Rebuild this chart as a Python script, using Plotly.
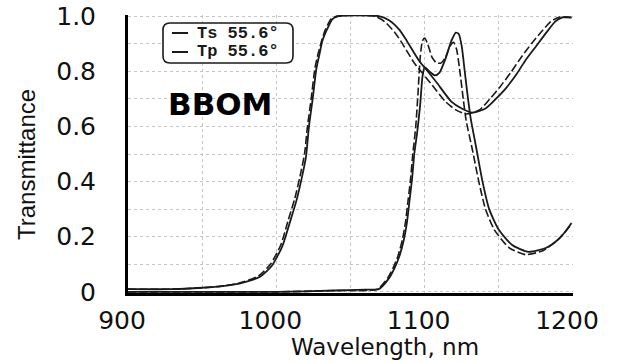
import plotly.graph_objects as go

# ---------------- data ----------------
wl_ts_a = [900, 930, 950, 962, 975, 989, 997, 1004, 1009, 1013.5, 1017, 1020, 1022, 1024.5, 1027, 1029, 1031, 1034, 1038, 1042,
           1069, 1076, 1083, 1088, 1096, 1102, 1108, 1118, 1125, 1132, 1141, 1148, 1155, 1162, 1168, 1175, 1182, 1188, 1193, 1199]
ts_a = [0.01, 0.01, 0.015, 0.02, 0.03, 0.055, 0.095, 0.165, 0.25, 0.33, 0.41, 0.49, 0.6, 0.70, 0.81, 0.86, 0.91, 0.95, 0.99, 1.0,
        1.0, 0.985, 0.95, 0.91, 0.84, 0.80, 0.76, 0.69, 0.665, 0.65, 0.665, 0.70, 0.74, 0.79, 0.84, 0.89, 0.94, 0.98, 0.995, 0.995]

wl_tp_a = [900, 930, 950, 962, 975, 988, 996, 1003, 1008, 1012.5, 1016, 1019, 1021, 1023.5, 1026, 1028, 1030.5, 1033, 1037, 1041,
           1066, 1073, 1080, 1085, 1093, 1099, 1105, 1114, 1121, 1128, 1137, 1144, 1151, 1158, 1165, 1172, 1179, 1185, 1191, 1199]
tp_a = [0.01, 0.01, 0.015, 0.02, 0.032, 0.058, 0.10, 0.17, 0.26, 0.34, 0.42, 0.50, 0.6, 0.70, 0.81, 0.86, 0.91, 0.95, 0.99, 1.0,
        1.0, 0.98, 0.94, 0.90, 0.83, 0.79, 0.75, 0.69, 0.66, 0.645, 0.66, 0.70, 0.745, 0.795, 0.85, 0.90, 0.945, 0.98, 0.997, 0.995]

wl_ts_b = [900, 1000, 1040, 1060, 1069, 1076, 1080, 1083, 1086, 1088, 1090, 1091.5, 1093, 1095, 1097, 1098.5, 1100, 1103, 1107,
           1110, 1114, 1118, 1121, 1123, 1125, 1127, 1129, 1131, 1134.5, 1139, 1143.5, 1150, 1159, 1170, 1182, 1190, 1195, 1199]
ts_b = [0.0, 0.0, 0.005, 0.008, 0.01, 0.05, 0.09, 0.13, 0.19, 0.25, 0.34, 0.41, 0.50, 0.58, 0.68, 0.78, 0.815, 0.80, 0.785,
        0.795, 0.845, 0.91, 0.94, 0.935, 0.89, 0.80, 0.71, 0.63, 0.53, 0.40, 0.30, 0.225, 0.17, 0.145, 0.16, 0.19, 0.22, 0.25]

wl_tp_b = [900, 1000, 1040, 1068, 1075, 1079, 1082, 1085, 1087, 1089, 1090.5, 1092, 1094, 1095.5, 1097, 1098.5, 1100, 1102, 1105,
           1108, 1111, 1114, 1117, 1119.5, 1121.5, 1123.5, 1126, 1128, 1132, 1136.5, 1141, 1147, 1157, 1168, 1180, 1190, 1199]
tp_b = [0.0, 0.0, 0.005, 0.01, 0.05, 0.09, 0.13, 0.19, 0.25, 0.34, 0.41, 0.50, 0.60, 0.72, 0.85, 0.91, 0.92, 0.90, 0.85,
        0.83, 0.83, 0.85, 0.89, 0.905, 0.88, 0.81, 0.70, 0.62, 0.52, 0.40, 0.30, 0.225, 0.16, 0.135, 0.15, 0.19, 0.245]

x_ticks = [900, 1000, 1100, 1200]
x_tick_labels = ["900", "1000", "1100", "1200"]
y_ticks = [0, 0.2, 0.4, 0.6, 0.8, 1.0]
y_tick_labels = ["0", "0.2", "0.4", "0.6", "0.8", "1.0"]
legend_labels = ["Ts 55.6\u00b0", "Tp 55.6\u00b0"]

# ---------------- layout helpers ----------------
W_IMG, H_IMG = 623, 362
L, R, T, B = 128, 573, 15, 293
PW, PH = R - L, B - T


def px(x):
    return (x - L) / PW


def py(y):
    return (B - y) / PH


ink = "#1a1a1a"
fig = go.Figure()
solid = dict(color=ink, width=1.8)
dashed = dict(color=ink, width=1.6, dash="8px,3px")
fig.add_trace(go.Scatter(x=wl_ts_a, y=ts_a, mode="lines", line=dict(**solid, shape="spline", smoothing=0.6), name=legend_labels[0], showlegend=False))
fig.add_trace(go.Scatter(x=wl_tp_a, y=tp_a, mode="lines", line=dict(**dashed, shape="spline", smoothing=0.6), name=legend_labels[1], showlegend=False))
fig.add_trace(go.Scatter(x=wl_ts_b, y=ts_b, mode="lines", line=dict(**solid, shape="spline", smoothing=0.6), name=legend_labels[0], showlegend=False))
fig.add_trace(go.Scatter(x=wl_tp_b, y=tp_b, mode="lines", line=dict(**dashed, shape="spline", smoothing=0.6), name=legend_labels[1], showlegend=False))

tick_font = dict(family="DejaVu Sans", size=25, color="#111")
grid = dict(showgrid=True, gridcolor="#c4c4c4", gridwidth=1, griddash="dot")

fig.update_xaxes(range=[900, 1200], tickvals=x_ticks, ticktext=x_tick_labels, tickfont=tick_font,
                 ticks="", ticklabelstandoff=3, ticklabelshift=-6, automargin=False,
                 showline=True, linecolor="#000", linewidth=3, zeroline=False,
                 minor=dict(dtick=50, tick0=900, showgrid=True, gridcolor="#c4c4c4", griddash="dot", gridwidth=1),
                 **grid)
fig.update_yaxes(range=[-0.004, 1.004], tickvals=y_ticks, ticktext=y_tick_labels, tickfont=tick_font,
                 ticks="", ticklabelstandoff=24, automargin=False,
                 showline=True, linecolor="#000", linewidth=3, zeroline=False,
                 minor=dict(dtick=0.1, tick0=0, showgrid=True, gridcolor="#c4c4c4", griddash="dot", gridwidth=1),
                 **grid)

# legend box (rounded)
bx0, bx1, by0, by1, r = 163, 293, 23, 63, 7
path = (f"M {px(bx0 + r)} {py(by0)} L {px(bx1 - r)} {py(by0)} Q {px(bx1)} {py(by0)} {px(bx1)} {py(by0 + r)} "
        f"L {px(bx1)} {py(by1 - r)} Q {px(bx1)} {py(by1)} {px(bx1 - r)} {py(by1)} "
        f"L {px(bx0 + r)} {py(by1)} Q {px(bx0)} {py(by1)} {px(bx0)} {py(by1 - r)} "
        f"L {px(bx0)} {py(by0 + r)} Q {px(bx0)} {py(by0)} {px(bx0 + r)} {py(by0)} Z")
shapes = [dict(type="path", xref="paper", yref="paper", path=path, line=dict(color=ink, width=1.6), fillcolor="white")]
annotations = []
for i, (lab, yy) in enumerate(zip(legend_labels, [33, 52])):
    shapes.append(dict(type="line", xref="paper", yref="paper", x0=px(172), x1=px(188), y0=py(yy), y1=py(yy),
                       line=dict(color=ink, width=2)))
    annotations.append(dict(text=lab, xref="paper", yref="paper", x=px(195), y=py(yy), xanchor="left", yanchor="middle",
                            showarrow=False, font=dict(family="Liberation Mono", size=17, color=ink, weight="bold")))

annotations.append(dict(text="<b>BBOM</b>", xref="paper", yref="paper", x=px(220), y=py(104), xanchor="center", yanchor="middle",
                        showarrow=False, font=dict(family="DejaVu Sans", size=31, color="#000")))
annotations.append(dict(text="Wavelength, nm", xref="paper", yref="paper", x=px(385), y=py(347), xanchor="center", yanchor="middle",
                        showarrow=False, font=dict(family="DejaVu Sans", size=23, color="#111")))
annotations.append(dict(text="Transmittance", xref="paper", yref="paper", x=px(26), y=py(165), xanchor="center", yanchor="middle",
                        textangle=-90, showarrow=False,
                        font=dict(family="Liberation Sans Narrow, Liberation Sans, sans-serif", size=24, color="#111")))

fig.update_layout(width=W_IMG, height=H_IMG, margin=dict(l=L, r=W_IMG - R, t=T, b=H_IMG - B, autoexpand=False),
                  paper_bgcolor="white", plot_bgcolor="white", showlegend=False,
                  shapes=shapes, annotations=annotations)

fig.write_html("out.html", config={"displayModeBar": False},
               post_script="document.body.style.margin='0';document.body.style.padding='0';document.body.style.overflow='hidden';")
